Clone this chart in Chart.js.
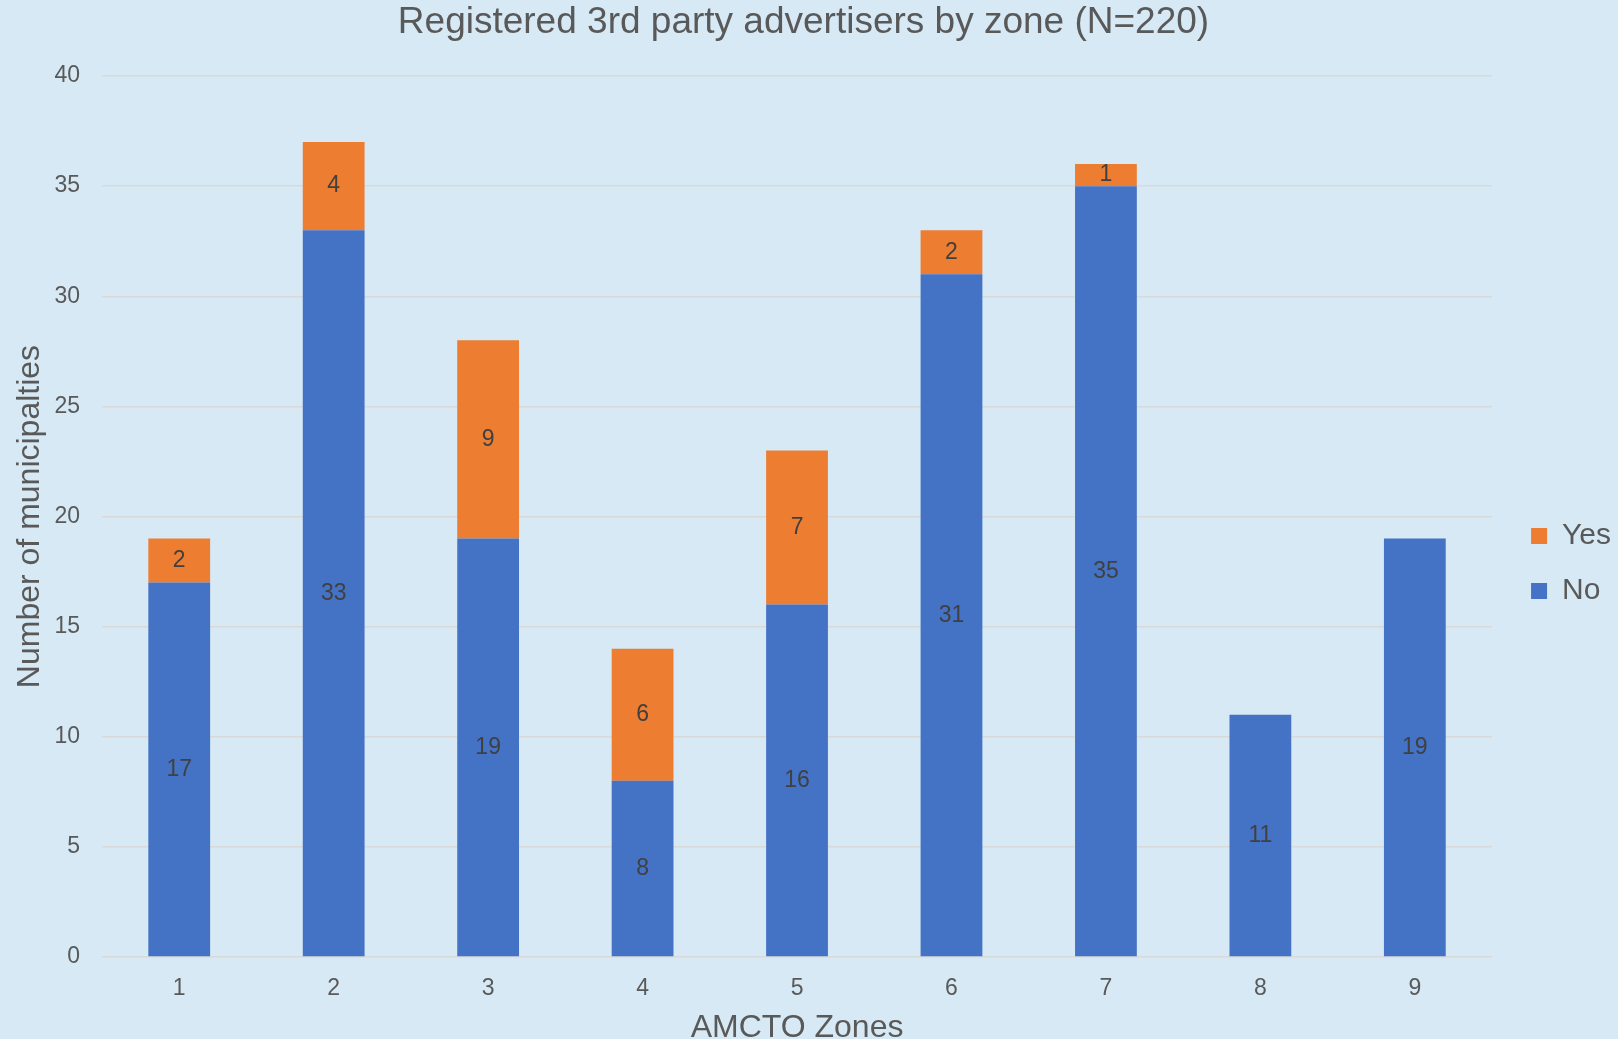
<!DOCTYPE html>
<html>
<head>
<meta charset="utf-8">
<script src="https://cdn.jsdelivr.net/npm/chart.js@4"></script>
<style>
  body { margin: 0; background: #D6E9F4; }
  #wrap { width: 1618px; height: 1039px; }
</style>
</head>
<body>
<div id="wrap"><canvas id="zoneChart" width="1618" height="1039"></canvas></div>
<script>
// Zones and counts per answer
const zones = ['1', '2', '3', '4', '5', '6', '7', '8', '9'];
const noCounts = [17, 33, 19, 8, 16, 31, 35, 11, 19];
const yesCounts = [2, 4, 9, 6, 7, 2, 1, 0, 0];
const yTicks = [0, 5, 10, 15, 20, 25, 30, 35, 40];

const textGrey = '#595959';
const fontName = "'Liberation Sans', Arial, sans-serif";

// values written in the middle of each stacked segment
const segmentLabels = {
    id: 'segmentLabels',
    afterDatasetsDraw(chart) {
        const ctx = chart.ctx;
        ctx.save();
        ctx.font = '23px ' + fontName;
        ctx.fillStyle = '#404040';
        ctx.textAlign = 'center';
        ctx.textBaseline = 'middle';
        chart.data.datasets.forEach((ds, i) => {
            const meta = chart.getDatasetMeta(i);
            meta.data.forEach((bar, j) => {
                const v = ds.data[j];
                if (!v) return;
                const p = bar.getCenterPoint();
                ctx.fillText(v, p.x, p.y);
            });
        });
        ctx.restore();
    }
};

// nudge the legend to where the original has it
const legendShift = {
    id: 'legendShift',
    afterLayout(chart) {
        const lg = chart.legend;
        if (lg) {
            lg.left += 14;
            lg.right += 14;
            lg.top += 44;
            lg.bottom += 44;
        }
    }
};

const ctx = document.getElementById('zoneChart').getContext('2d');
new Chart(ctx, {
    type: 'bar',
    data: {
        labels: zones,
        datasets: [
            { label: 'No', data: noCounts, backgroundColor: '#4472C4' },
            { label: 'Yes', data: yesCounts, backgroundColor: '#ED7D31' }
        ]
    },
    options: {
        responsive: false,
        animation: false,
        categoryPercentage: 1,
        barPercentage: 0.4,
        layout: { padding: { right: 11 } },
        plugins: {
            title: {
                display: true,
                text: 'Registered 3rd party advertisers by zone (N=220)',
                color: textGrey,
                font: { family: fontName, size: 37, weight: 'normal' },
                padding: { top: 1, bottom: 30.6 }
            },
            legend: {
                position: 'right',
                reverse: true,
                labels: {
                    color: textGrey,
                    font: { family: fontName, size: 30 },
                    boxWidth: 16,
                    boxHeight: 16,
                    padding: 25
                }
            },
            tooltip: { enabled: false }
        },
        scales: {
            x: {
                stacked: true,
                grid: { display: false },
                border: { display: false },
                ticks: { color: textGrey, font: { family: fontName, size: 23 }, padding: 10 },
                title: {
                    display: true,
                    text: 'AMCTO Zones',
                    color: textGrey,
                    font: { family: fontName, size: 32 },
                    padding: { top: 0, bottom: -8 }
                },
                afterFit(scale) { scale.height = 82; }
            },
            y: {
                stacked: true,
                min: 0,
                max: 40,
                afterBuildTicks(scale) { scale.ticks = yTicks.map(v => ({ value: v })); },
                grid: { color: '#D9D9D9', lineWidth: 1.5, drawTicks: false },
                border: { display: false },
                ticks: { color: textGrey, font: { family: fontName, size: 23 }, padding: 22 },
                title: {
                    display: true,
                    text: 'Number of municipalties',
                    color: textGrey,
                    font: { family: fontName, size: 32 },
                    padding: { top: 11, bottom: 0 }
                },
                afterFit(scale) { scale.width = 102; }
            }
        }
    },
    plugins: [segmentLabels, legendShift]
});
</script>
</body>
</html>
